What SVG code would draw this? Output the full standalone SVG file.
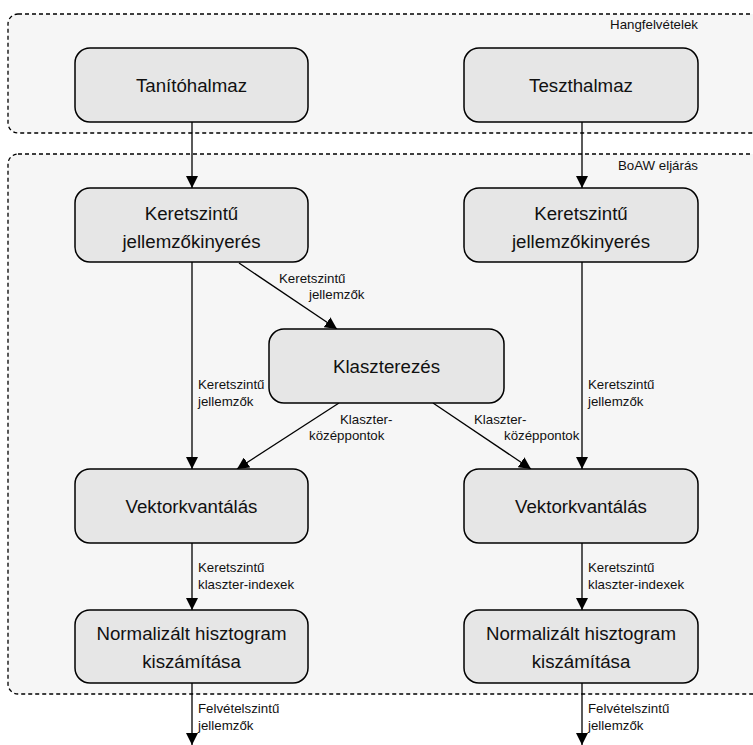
<svg xmlns="http://www.w3.org/2000/svg" width="753" height="745" viewBox="0 0 753 745">
<style>
.grp{fill:#f6f6f6;stroke:#000;stroke-width:1.3;stroke-dasharray:4,3}
.node{fill:#e6e6e6;stroke:#000;stroke-width:1.5}
.nt{font-family:"Liberation Sans",Arial,sans-serif;font-size:18.7px;text-anchor:middle;fill:#111}
.lt{font-family:"Liberation Sans",Arial,sans-serif;font-size:13.3px;fill:#111}
.edge{stroke:#000;stroke-width:1.3;fill:none;marker-end:url(#arr)}
</style>
<defs>
<marker id="arr" viewBox="0 0 12 12" refX="12" refY="6" markerWidth="12" markerHeight="12" markerUnits="userSpaceOnUse" orient="auto">
<path d="M0,0 L12,6 L0,12 z" fill="#000"/>
</marker>
</defs>
<rect width="753" height="745" fill="#fff"/>
<g id="group-hangfelvetelek">
<rect class="grp" x="8" y="14" width="770" height="119" rx="10"/>
<text class="lt" x="698" y="29" text-anchor="end">Hangfelvételek</text>
</g>
<g id="group-boaw">
<rect class="grp" x="8" y="154" width="770" height="540" rx="10"/>
<text class="lt" x="698" y="170" text-anchor="end">BoAW eljárás</text>
</g>
<g id="edges">
<line class="edge" x1="192" y1="122" x2="192" y2="188"/>
<line class="edge" x1="582" y1="122" x2="582" y2="188"/>
<line class="edge" x1="239" y1="263" x2="337" y2="329"/>
<line class="edge" x1="192" y1="262" x2="192" y2="469"/>
<line class="edge" x1="582" y1="262" x2="582" y2="469"/>
<line class="edge" x1="339" y1="403" x2="237" y2="469"/>
<line class="edge" x1="433" y1="403" x2="531" y2="469"/>
<line class="edge" x1="192" y1="543" x2="192" y2="610"/>
<line class="edge" x1="582" y1="543" x2="582" y2="610"/>
<line class="edge" x1="192" y1="683" x2="192" y2="745"/>
<line class="edge" x1="582" y1="683" x2="582" y2="745"/>
<text class="lt" x="279" y="283">Keretszintű</text>
<text class="lt" x="309" y="299">jellemzők</text>
<text class="lt" x="198" y="389">Keretszintű</text>
<text class="lt" x="198" y="406">jellemzők</text>
<text class="lt" x="588" y="389">Keretszintű</text>
<text class="lt" x="588" y="406">jellemzők</text>
<text class="lt" x="340" y="424">Klaszter-</text>
<text class="lt" x="309" y="440">középpontok</text>
<text class="lt" x="474" y="424">Klaszter-</text>
<text class="lt" x="504" y="440">középpontok</text>
<text class="lt" x="198" y="572">Keretszintű</text>
<text class="lt" x="198" y="589">klaszter-indexek</text>
<text class="lt" x="588" y="572">Keretszintű</text>
<text class="lt" x="588" y="589">klaszter-indexek</text>
<text class="lt" x="198" y="713">Felvételszintű</text>
<text class="lt" x="198" y="730">jellemzők</text>
<text class="lt" x="588" y="713">Felvételszintű</text>
<text class="lt" x="588" y="730">jellemzők</text>
</g>
<g id="node-tanitohalmaz">
<rect class="node" x="75" y="48" width="233" height="74" rx="15"/>
<text class="nt" x="191.5" y="92">Tanítóhalmaz</text>
</g>
<g id="node-teszthalmaz">
<rect class="node" x="464" y="48" width="234" height="74" rx="15"/>
<text class="nt" x="581" y="92">Teszthalmaz</text>
</g>
<g id="node-keret-left">
<rect class="node" x="75" y="188" width="233" height="74" rx="15"/>
<text class="nt" x="191.5" y="219.5">Keretszintű</text>
<text class="nt" x="191.5" y="247.5">jellemzőkinyerés</text>
</g>
<g id="node-keret-right">
<rect class="node" x="464" y="188" width="234" height="74" rx="15"/>
<text class="nt" x="581" y="219.5">Keretszintű</text>
<text class="nt" x="581" y="247.5">jellemzőkinyerés</text>
</g>
<g id="node-klaszterezes">
<rect class="node" x="269" y="329" width="235" height="74" rx="15"/>
<text class="nt" x="386.5" y="373">Klaszterezés</text>
</g>
<g id="node-vq-left">
<rect class="node" x="75" y="469" width="233" height="74" rx="15"/>
<text class="nt" x="191.5" y="513">Vektorkvantálás</text>
</g>
<g id="node-vq-right">
<rect class="node" x="464" y="469" width="234" height="74" rx="15"/>
<text class="nt" x="581" y="513">Vektorkvantálás</text>
</g>
<g id="node-hist-left">
<rect class="node" x="75" y="610" width="233" height="73" rx="15"/>
<text class="nt" x="191.5" y="640">Normalizált hisztogram</text>
<text class="nt" x="191.5" y="668">kiszámítása</text>
</g>
<g id="node-hist-right">
<rect class="node" x="464" y="610" width="234" height="73" rx="15"/>
<text class="nt" x="581" y="640">Normalizált hisztogram</text>
<text class="nt" x="581" y="668">kiszámítása</text>
</g>
</svg>
